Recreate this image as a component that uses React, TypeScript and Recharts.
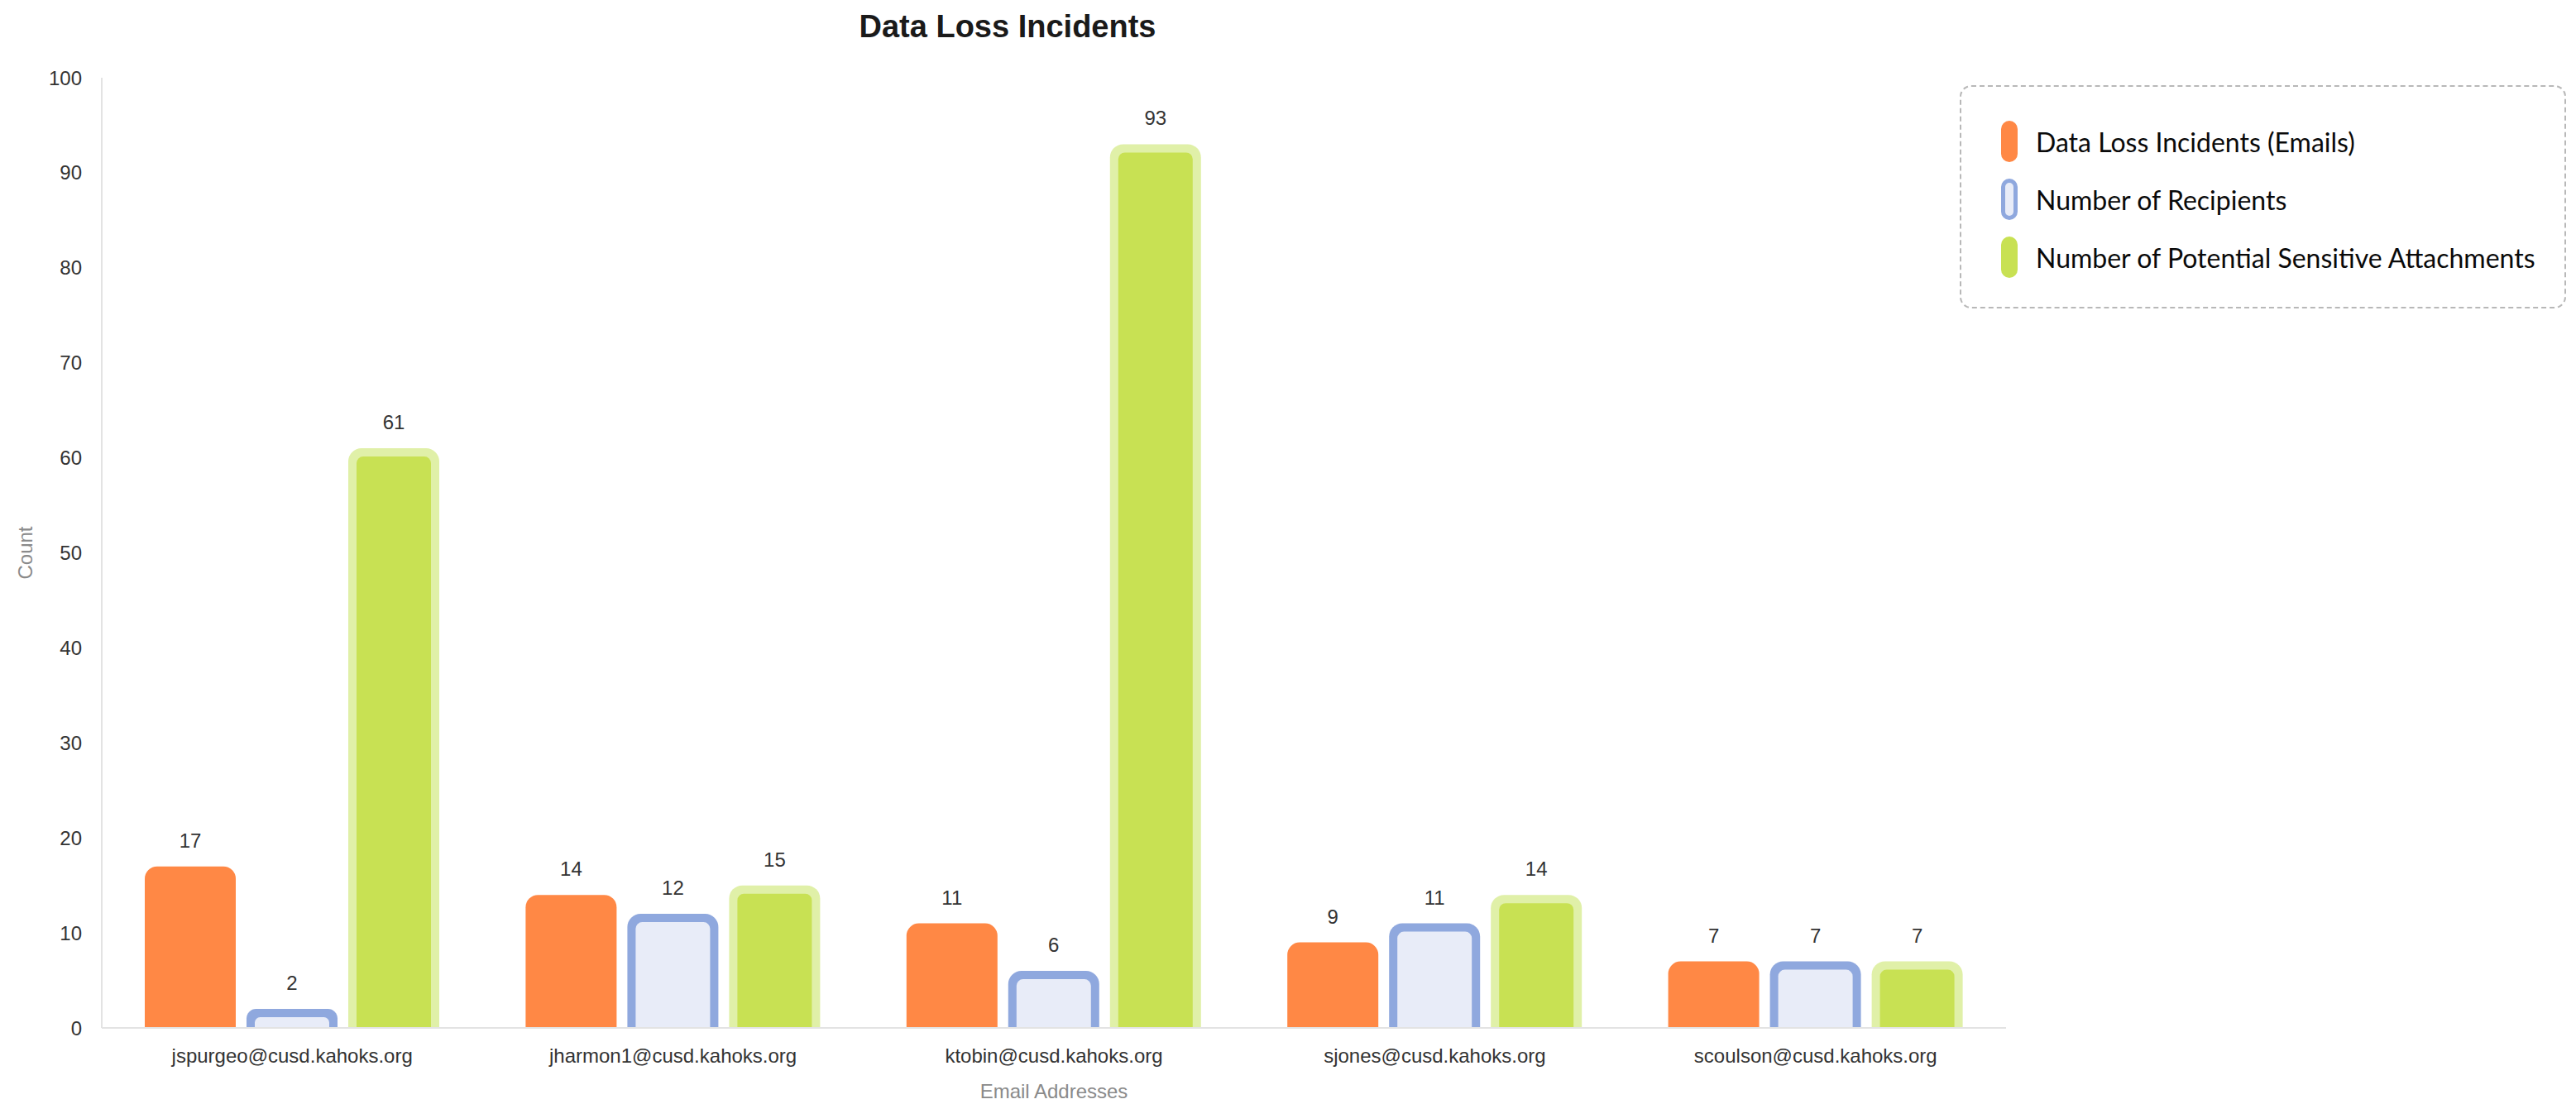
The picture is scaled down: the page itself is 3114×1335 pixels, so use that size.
import React from 'react';
import { BarChart, Bar, XAxis, YAxis, Legend, LabelList, Rectangle } from 'recharts';

const categories = [
  'jspurgeo@cusd.kahoks.org',
  'jharmon1@cusd.kahoks.org',
  'ktobin@cusd.kahoks.org',
  'sjones@cusd.kahoks.org',
  'scoulson@cusd.kahoks.org',
];
const incidents = [17, 14, 11, 9, 7];
const recipients = [2, 12, 6, 11, 7];
const attachments = [61, 15, 93, 14, 7];
const yTicks = [0, 10, 20, 30, 40, 50, 60, 70, 80, 90, 100];

const seriesNames = {
  incidents: 'Data Loss Incidents (Emails)',
  recipients: 'Number of Recipients',
  attachments: 'Number of Potential Sensitive Attachments',
};

const data = categories.map((email, i) => ({
  email,
  incidents: incidents[i],
  recipients: recipients[i],
  attachments: attachments[i],
}));

const ORANGE = '#FF8845';
const BLUE_STROKE = '#8FA8DE';
const BLUE_FILL = '#E8ECF8';
const GREEN = '#C8E153';
const GREEN_LIGHT = '#E0F0A8';
const FONT = '"Liberation Sans", Arial, sans-serif';

const makeShape = (outer: string, inner: string, sw: number, rOuter: number, rInner: number) => (props: any) => {
  const { x, y, width, height } = props;
  if (!height || height <= 0) return <g />;
  return (
    <g>
      <Rectangle x={x} y={y} width={width} height={height} fill={outer} radius={[rOuter, rOuter, 0, 0]} />
      {sw > 0 && (
        <Rectangle
          x={x + sw}
          y={y + sw}
          width={width - 2 * sw}
          height={Math.max(0, height - sw)}
          fill={inner}
          radius={[rInner, rInner, 0, 0]}
        />
      )}
    </g>
  );
};

const legendItems = [
  { name: seriesNames.incidents, bg: ORANGE, border: 'none' },
  { name: seriesNames.recipients, bg: BLUE_FILL, border: `5px solid ${BLUE_STROKE}` },
  { name: seriesNames.attachments, bg: GREEN, border: 'none' },
];

const renderLegend = () => (
  <div
    style={{
      width: 733,
      height: 270,
      boxSizing: 'border-box',
      border: '2px dashed #b8b8b8',
      borderRadius: 14,
      padding: '31px 0 0 48px',
      fontFamily: 'Lato, sans-serif',
      fontSize: 32,
      color: '#0a0a0a',
      background: '#fff',
    }}
  >
    {legendItems.map((item) => (
      <div key={item.name} style={{ display: 'flex', alignItems: 'center', height: 70 }}>
        <span
          style={{
            display: 'inline-block',
            width: 20,
            height: 50,
            borderRadius: 10,
            background: item.bg,
            border: item.border,
            boxSizing: 'border-box',
            marginRight: 22,
          }}
        />
        <span>{item.name}</span>
      </div>
    ))}
  </div>
);

const YLabel = (props: any) => {
  const vb = props.viewBox || {};
  const cx = (vb.x || 0) + 30;
  const cy = (vb.y || 0) + (vb.height || 0) / 2;
  return (
    <text x={cx} y={cy} transform={`rotate(-90 ${cx} ${cy})`} textAnchor="middle" dominantBaseline="central" fill="#8a8a8a" fontSize={24} fontFamily={FONT}>
      Count
    </text>
  );
};

export default function App() {
  return (
    <div style={{ position: 'absolute', left: 0, top: 0, width: 3114, height: 1335, background: '#fff' }}>
      <div
        style={{
          position: 'absolute',
          left: 0,
          top: 13,
          width: 2436,
          textAlign: 'center',
          fontFamily: FONT,
          fontWeight: 'bold',
          fontSize: 38,
          lineHeight: '38px',
          color: '#1a1a1a',
        }}
      >
        Data Loss Incidents
      </div>
      <BarChart
        width={3114}
        height={1335}
        data={data}
        margin={{ top: 94, right: 689, left: 0, bottom: 0 }}
        barSize={110}
        barGap={13}
        style={{ fontFamily: FONT }}
      >
        <XAxis
          dataKey="email"
          interval={0}
          tickLine={false}
          axisLine={{ stroke: '#e3e3e3', strokeWidth: 2 }}
          tick={{ fontSize: 24, fill: '#333' }}
          tickMargin={19}
          height={92}
          label={{ value: 'Email Addresses', position: 'insideBottom', offset: 7, fill: '#8a8a8a', fontSize: 24 }}
        />
        <YAxis
          width={123}
          domain={[0, 100]}
          ticks={yTicks}
          interval={0}
          tickLine={false}
          axisLine={{ stroke: '#e3e3e3', strokeWidth: 2 }}
          tick={{ fontSize: 24, fill: '#333' }}
          tickMargin={18}
          label={<YLabel />}
        />
        <Legend
          layout="vertical"
          align="center"
          verticalAlign="middle"
          wrapperStyle={{ left: 2369, top: 103, width: 733 }}
          content={renderLegend}
        />
        <Bar dataKey="incidents" name={seriesNames.incidents} fill={ORANGE} isAnimationActive={false} shape={makeShape(ORANGE, ORANGE, 0, 15, 0)}>
          <LabelList dataKey="incidents" position="top" offset={23} fill="#333" fontSize={24} />
        </Bar>
        <Bar dataKey="recipients" name={seriesNames.recipients} fill={BLUE_FILL} isAnimationActive={false} shape={makeShape(BLUE_STROKE, BLUE_FILL, 10, 16, 8)}>
          <LabelList dataKey="recipients" position="top" offset={23} fill="#333" fontSize={24} />
        </Bar>
        <Bar dataKey="attachments" name={seriesNames.attachments} fill={GREEN} isAnimationActive={false} shape={makeShape(GREEN_LIGHT, GREEN, 10, 16, 8)}>
          <LabelList dataKey="attachments" position="top" offset={23} fill="#333" fontSize={24} />
        </Bar>
      </BarChart>
    </div>
  );
}
